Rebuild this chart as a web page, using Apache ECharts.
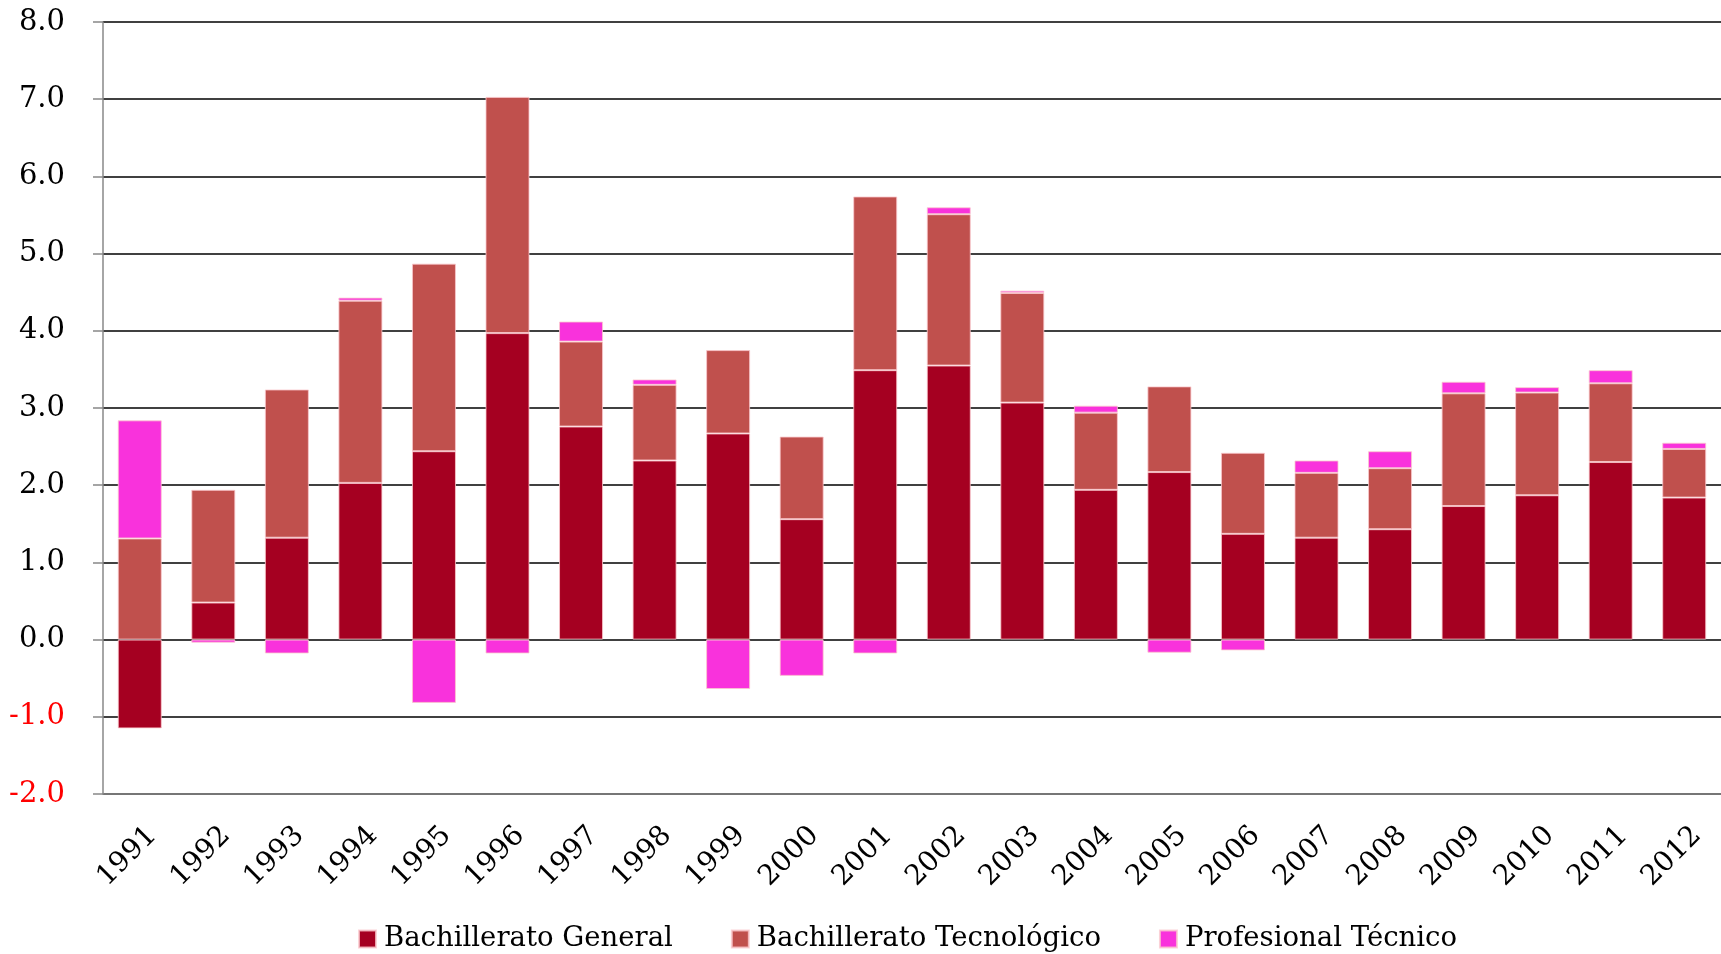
<!DOCTYPE html>
<html>
<head>
<meta charset="utf-8">
<script src="https://cdn.jsdelivr.net/npm/echarts@6/dist/echarts.min.js"></script>
<style>
html,body{margin:0;padding:0;background:#fff;}
#chart{width:1721px;height:954px;}
</style>
</head>
<body>
<div id="chart"></div>
<script>
const years = ['1991','1992','1993','1994','1995','1996','1997','1998','1999','2000','2001','2002','2003','2004','2005','2006','2007','2008','2009','2010','2011','2012'];
const bachGeneral = [-1.15, 0.48, 1.32, 2.03, 2.44, 3.97, 2.76, 2.32, 2.67, 1.56, 3.49, 3.55, 3.07, 1.94, 2.17, 1.37, 1.32, 1.43, 1.73, 1.87, 2.30, 1.84];
const bachTecnologico = [1.31, 1.46, 1.92, 2.36, 2.43, 3.06, 1.10, 0.98, 1.08, 1.07, 2.25, 1.96, 1.42, 1.00, 1.11, 1.05, 0.84, 0.79, 1.46, 1.33, 1.02, 0.63];
const profTecnico = [1.53, -0.04, -0.18, 0.04, -0.82, -0.18, 0.26, 0.07, -0.64, -0.47, -0.18, 0.09, 0.03, 0.09, -0.17, -0.14, 0.16, 0.22, 0.15, 0.07, 0.17, 0.08];
const seriesNames = ['Bachillerato General', 'Bachillerato Tecnológico', 'Profesional Técnico'];

const FONT = 'DejaVu Serif';
const chart = echarts.init(document.getElementById('chart'), null, {renderer: 'canvas'});
const barStyle = (c) => ({color: c, borderColor: 'rgba(250,200,205,0.8)', borderWidth: 1});
chart.setOption({
  animation: false,
  backgroundColor: '#fff',
  grid: {left: 103, top: 22, width: 1623, height: 772, containLabel: false},
  legend: {
    left: 353, top: 920,
    itemWidth: 17, itemHeight: 17, itemGap: 58,
    icon: 'rect',
    textStyle: {fontFamily: FONT, fontSize: 27.5, color: '#000', padding: [0, 0, 0, 3]},
    data: seriesNames
  },
  xAxis: {
    type: 'category',
    data: years,
    axisLine: {onZero: false, lineStyle: {color: '#888', width: 1.5}},
    axisTick: {length: 10, lineStyle: {color: '#888', width: 1.5}},
    axisLabel: {rotate: 45, margin: 50, fontFamily: FONT, fontSize: 28, color: '#000', padding: [0, -18, 0, 0], interval: 0}
  },
  yAxis: {
    type: 'value', min: -2, max: 8, interval: 1,
    axisLine: {show: true, lineStyle: {color: '#888', width: 1.5}},
    axisTick: {show: true, length: 10, lineStyle: {color: '#888', width: 1.5}},
    splitLine: {lineStyle: {color: '#000', width: 1.5}},
    axisLabel: {
      margin: 38, fontFamily: FONT, fontSize: 29,
      formatter: (v) => v.toFixed(1),
      color: (v) => (Number(v) < 0 ? '#ff0000' : '#000')
    }
  },
  series: [
    {name: seriesNames[0], type: 'bar', stack: 'total', barWidth: 44, data: bachGeneral, itemStyle: barStyle('#A50021')},
    {name: seriesNames[1], type: 'bar', stack: 'total', barWidth: 44, data: bachTecnologico, itemStyle: barStyle('#C0504D')},
    {name: seriesNames[2], type: 'bar', stack: 'total', barWidth: 44, data: profTecnico, itemStyle: barStyle('#F932DC')}
  ]
});
</script>
</body>
</html>
